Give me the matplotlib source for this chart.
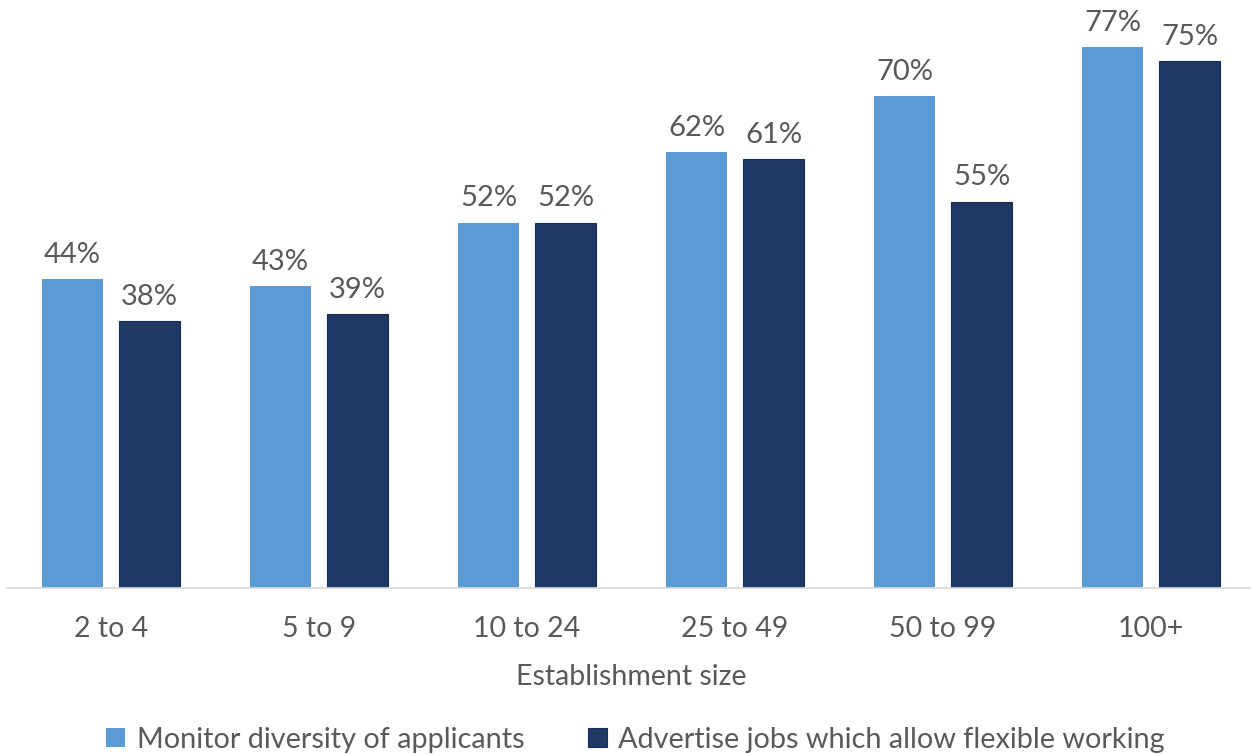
import matplotlib.pyplot as plt
import numpy as np

# data
categories = ["2 to 4", "5 to 9", "10 to 24", "25 to 49", "50 to 99", "100+"]
monitor = [44, 43, 52, 62, 70, 77]
advertise = [38, 39, 52, 61, 55, 75]
series_names = ["Monitor diversity of applicants",
                "Advertise jobs which allow flexible working"]

plt.rcParams['font.family'] = ['Lato', 'DejaVu Sans']
grey = "#595959"
light = "#5B9BD5"
dark = "#203864"

fig = plt.figure(figsize=(12.51, 7.54), dpi=100)
ax = fig.add_axes([7 / 1251, 1 - 588 / 754, 1248 / 1251, 588 / 754])

x = np.arange(len(categories))
w = 0.293
off = 0.185
b1 = ax.bar(x - off, monitor, w, color=light, label=series_names[0])
b2 = ax.bar(x + off, advertise, w, color=dark, edgecolor="#1a2e55",
            linewidth=0.8, label=series_names[1])

for bars in (b1, b2):
    for b in bars:
        ax.text(b.get_x() + b.get_width() / 2, b.get_height() + 1.6,
                "%d%%" % b.get_height(), ha="center", va="bottom",
                fontsize=21, color=grey)

ax.set_xlim(-0.5, len(categories) - 0.5)
ax.set_ylim(0, 588 / 7.026)
ax.set_xticks(x)
ax.set_xticklabels(categories, fontsize=20.5, color=grey)
ax.tick_params(axis="x", length=0, pad=20)
ax.set_yticks([])
for s in ["top", "right", "left"]:
    ax.spines[s].set_visible(False)
ax.spines["bottom"].set_color("#d9d9d9")
ax.spines["bottom"].set_linewidth(1.2)
ax.set_xlabel("Establishment size", fontsize=20.5, color=grey, labelpad=16)

leg = fig.legend(loc="lower center", bbox_to_anchor=(0.508, -0.033), ncol=2,
                 frameon=False, fontsize=20.8, handlelength=0.65,
                 handleheight=0.65, columnspacing=2.2, handletextpad=0.4)
for t in leg.get_texts():
    t.set_color(grey)

fig.savefig("out.png", dpi=100)
